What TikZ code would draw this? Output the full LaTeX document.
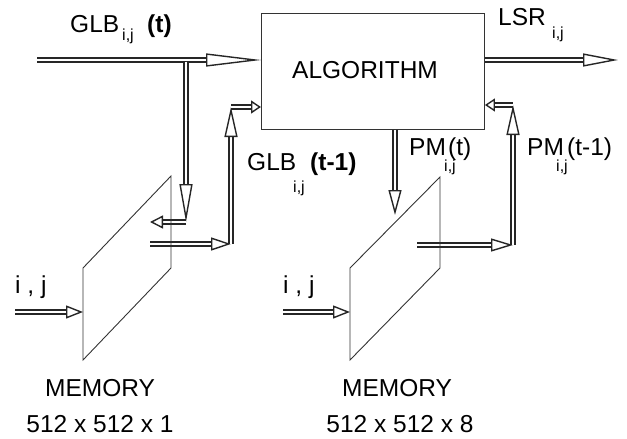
\documentclass[tikz,border=0pt]{standalone}
\usepackage{fontspec}
\setmainfont{Liberation Sans}
\usetikzlibrary{arrows.meta}
\begin{document}
\begin{tikzpicture}[x=1pt,y=-1pt,
  thinline/.style={draw=black!80, line width=0.9pt},
  hollow/.style={draw=black!85, line width=1.4pt, double=white, double distance=2.8pt},
  hd/.style={-{Triangle[open, length=#1, width=13pt]}},
  lbl/.style={inner sep=0pt, anchor=base west, font=\fontsize{24.5}{28}\selectfont},
  lblc/.style={inner sep=0pt, anchor=base, font=\fontsize{24.5}{28}\selectfont},
  sub/.style={inner sep=0pt, anchor=base west, font=\fontsize{16}{18}\selectfont},
]
\useasboundingbox (0,0) rectangle (627,439);

% processing block
\node[thinline, draw, minimum width=223pt, minimum height=116pt, inner sep=0pt,
      anchor=north west] (alg) at (261,13) {};
\node[lbl] (algtxt) at (292,78) {ALGORITHM};

% connector end points
\coordinate (gin)   at (37,60);
\coordinate (split) at (186,61.5);
\coordinate (d1)    at (186,222);
\coordinate (d1l)   at (150,222);
\coordinate (u1s)   at (150,244);
\coordinate (u1c)   at (231,244);
\coordinate (u1t)   at (231,107);
\coordinate (out)   at (618,60);
\coordinate (pmt)   at (395,215);
\coordinate (p2s)   at (417,245);
\coordinate (p2c)   at (513,245);
\coordinate (p2t)   at (513,105);
\coordinate (ij1)   at (15,312);
\coordinate (ij2)   at (283,312);

% memory planes
\coordinate (m1a) at (83,268);  \coordinate (m1b) at (171,176);
\coordinate (m1c) at (171,268); \coordinate (m1d) at (83,360);
\coordinate (m2a) at (350,268); \coordinate (m2b) at (440,177);
\coordinate (m2c) at (440,268); \coordinate (m2d) at (350,360);

% hollow arrows
\draw[hollow, hd=55pt] (gin) -- (gin -| alg.west);
\draw[hollow, hd=38pt] (split) -- (d1);
\draw[hollow, hd=13pt] (d1) -- (d1l);
\draw[hollow, hd=20pt] (u1s) -- (u1c);
\draw[hollow, hd=30pt] (u1c) -- (u1t);
\draw[hollow, hd=10pt] (u1t) -- (u1t -| alg.west);
\draw[hollow, hd=35pt] (out -| alg.east) -- (out);
\draw[hollow, hd=25pt] (pmt |- alg.south) -- (pmt);
\draw[hollow, hd=22pt] (p2s) -- (p2c);
\draw[hollow, hd=30pt] (p2c) -- (p2t);
\draw[hollow, hd=10pt] (p2t) -- (p2t -| alg.east);
\draw[hollow, hd=17pt] (ij1) -- (ij1 -| m1a);
\draw[hollow, hd=17pt] (ij2) -- (ij2 -| m2a);

\draw[thinline] (m1a) -- (m1b) -- (m1c) -- (m1d) -- cycle;
\draw[thinline] (m2a) -- (m2b) -- (m2c) -- (m2d) -- cycle;

% labels
\node[lbl] (glb1) at (70,32) {GLB};
\node[sub] (glb1s) at (122,40) {i,j};
\node[lbl] (glb1t) at (147,32) {\bfseries (t)};

\node[lbl] (lsr) at (498,25) {LSR};
\node[sub] (lsrs) at (552,38) {i,j};

\node[lbl] (glb2) at (247,170) {GLB};
\node[lbl] (glb2t) at (310,170) {\bfseries (t-1)};
\node[sub] (glb2s) at (293,192) {i,j};

\node[lbl] (pm1) at (409,155) {PM};
\node[sub] (pm1s) at (444,171) {i,j};
\node[lbl] (pm1t) at (448,155) {(t)};

\node[lbl] (pm2) at (527,155) {PM};
\node[sub] (pm2s) at (556,171) {i,j};
\node[lbl] (pm2t) at (567,155) {(t-1)};

\node[lbl] (ij1t) at (15,293) {i , j};
\node[lbl] (ij2t) at (283,293) {i , j};

\node[lblc] (mem1) at (100,396) {MEMORY};
\node[lblc] (siz1) at (100,432) {512 x 512 x 1};
\node[lblc] (mem2) at (397,396) {MEMORY};
\node[lblc] (siz2) at (400,432) {512 x 512 x 8};
\end{tikzpicture}
\end{document}
